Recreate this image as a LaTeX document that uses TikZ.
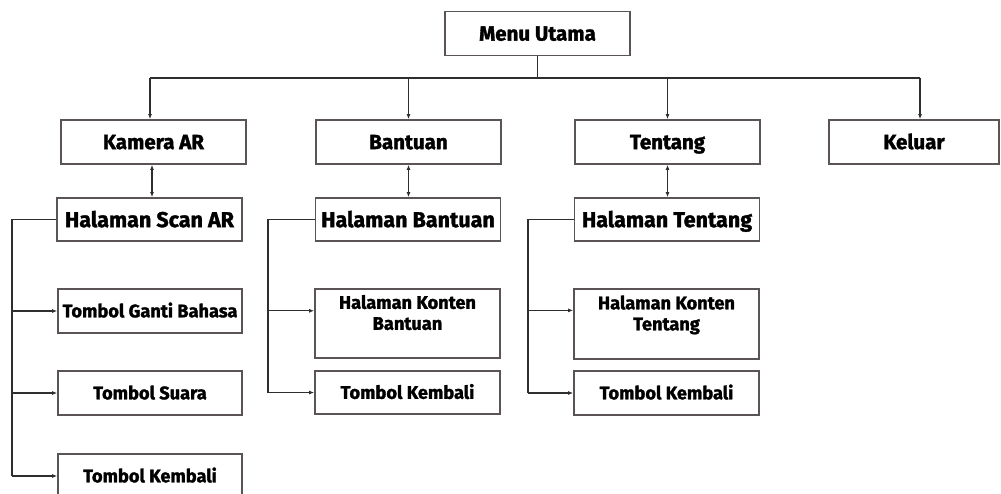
\documentclass[tikz,border=0pt]{standalone}
\usepackage{fontspec}
\setmainfont{Fira Sans}[BoldFeatures={FakeBold=1.6}]
\usetikzlibrary{arrows.meta,calc}
\definecolor{boxline}{HTML}{5A5454}
\definecolor{conline}{HTML}{2E2E2E}
\begin{document}
\begin{tikzpicture}[x=1pt,y=-1pt,
  box/.style={draw=boxline,line width=1.7pt,fill=white,inner sep=2pt,align=center,
    text height=14.2pt,text depth=0pt,font=\bfseries\fontsize{20.5}{22}\selectfont},
  bigbox/.style={box,text height=15.2pt,font=\bfseries\fontsize{21.5}{24}\selectfont},
  smallbox/.style={box,text height=12.6pt,font=\bfseries\fontsize{18.2}{21}\selectfont},
  con/.style={draw=conline,line width=1.3pt},
  arr/.style={con,-{Latex[length=5pt,width=4pt]}},
  darr/.style={con,{Latex[length=5pt,width=4pt]}-{Latex[length=5pt,width=4pt]}}]
\useasboundingbox (0,0) rectangle (1001,493);
% level 0
\node[box,minimum width=185pt,minimum height=44pt] (menu) at (537.5,33.5) {Menu Utama};
% level 1
\node[box,minimum width=185pt,minimum height=44pt] (kam) at (153.5,142) {Kamera AR};
\node[box,minimum width=185pt,minimum height=44pt] (ban) at (408.5,142) {Bantuan};
\node[box,minimum width=185pt,minimum height=44pt] (ten) at (667.5,142) {Tentang};
\node[box,minimum width=170pt,minimum height=44pt] (kel) at (914,142) {Keluar};
% level 2
\node[bigbox,minimum width=185pt,minimum height=43pt] (hsa) at (149.5,219.5) {Halaman Scan AR};
\node[bigbox,minimum width=185pt,minimum height=43pt] (hba) at (408,219.5) {Halaman Bantuan};
\node[bigbox,minimum width=185pt,minimum height=43pt] (hte) at (667,219.5) {Halaman Tentang};
% level 3
\node[smallbox,minimum width=184pt,minimum height=44pt] (tgb) at (150,311) {Tombol Ganti Bahasa};
\node[smallbox,minimum width=184pt,minimum height=44pt] (tsu) at (150,393) {Tombol Suara};
\node[smallbox,minimum width=184pt,minimum height=44pt] (tka) at (150,476) {Tombol Kembali};
\node[smallbox,minimum width=185pt,minimum height=69pt] (hkb) at (407.5,323.5) {Halaman Konten\\Bantuan};
\node[smallbox,minimum width=185pt,minimum height=43pt] (tkb) at (407.5,392.5) {Tombol Kembali};
\node[smallbox,minimum width=185pt,minimum height=70pt] (hkt) at (666.5,324) {Halaman Konten\\Tentang};
\node[smallbox,minimum width=185pt,minimum height=44pt] (tkt) at (666.5,393) {Tombol Kembali};
% bus
\coordinate (busL) at (150,78);
\coordinate (busR) at (920,78);
\coordinate (bus) at (menu.south |- busL);
\draw[con] (menu.south) -- (bus);
\draw[con] (busL) -- (busR);
\draw[arr] (busL) -- (busL |- kam.north);
\draw[arr] (bus -| ban.north) -- (ban.north);
\draw[arr] (bus -| ten.north) -- (ten.north);
\draw[arr] (busR) -- (busR |- kel.north);
% double arrows
\coordinate (da) at (152,164);
\draw[darr] (da |- kam.south) -- (da |- hsa.north);
\draw[darr] (ban.south) -- (ban.south |- hba.north);
\draw[darr] (ten.south) -- (ten.south |- hte.north);
% branches
\coordinate (spA) at (12,219.5);
\coordinate (spB) at (268,219.5);
\coordinate (spC) at (528,219.5);
\coordinate (hkbIn) at ($(hkb.north west)!0.32!(hkb.south west)$);
\coordinate (hktIn) at ($(hkt.north west)!0.31!(hkt.south west)$);
\draw[con] (hsa.west) -- (hsa.west -| spA) -- (spA |- tka.west);
\draw[arr] (spA |- tgb.west) -- (tgb.west);
\draw[arr] (spA |- tsu.west) -- (tsu.west);
\draw[arr] (spA |- tka.west) -- (tka.west);
\draw[con] (hba.west) -- (hba.west -| spB) -- (spB |- tkb.west);
\draw[arr] (spB |- hkbIn) -- (hkbIn);
\draw[arr] (spB |- tkb.west) -- (tkb.west);
\draw[con] (hte.west) -- (hte.west -| spC) -- (spC |- tkt.west);
\draw[arr] (spC |- hktIn) -- (hktIn);
\draw[arr] (spC |- tkt.west) -- (tkt.west);
\end{tikzpicture}
\end{document}
